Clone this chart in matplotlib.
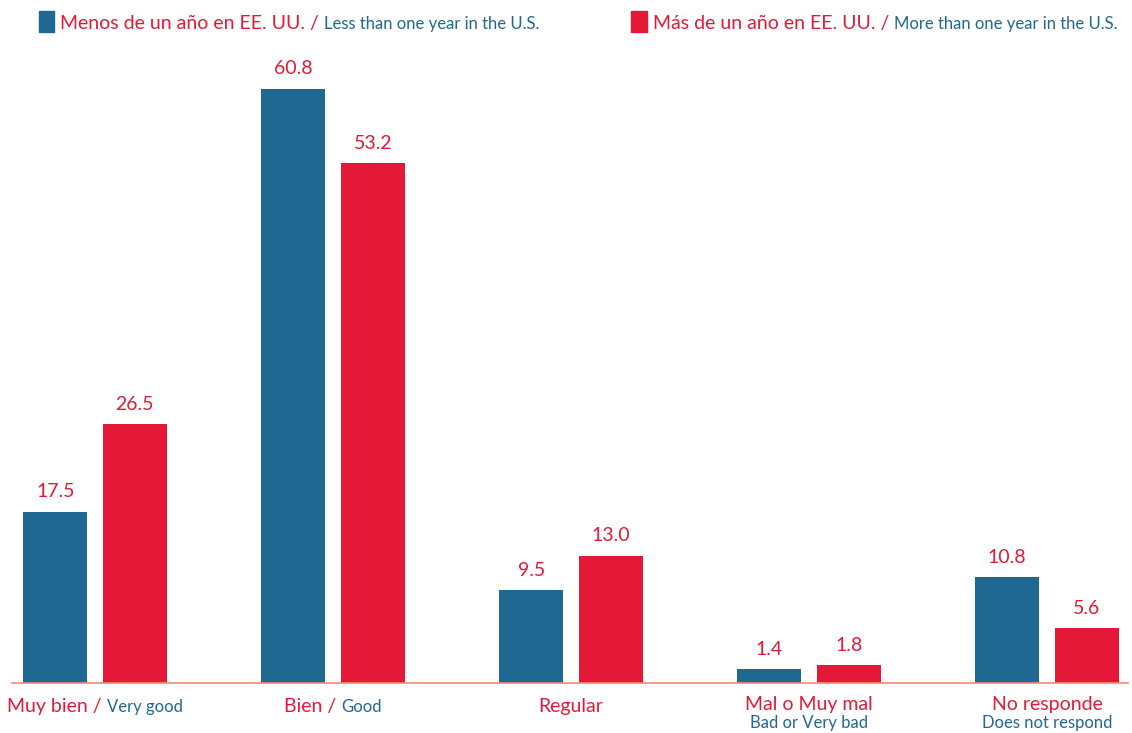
import matplotlib
matplotlib.use("Agg")
import matplotlib.pyplot as plt
import numpy as np

# datos
categorias_es = ["Muy bien", "Bien", "Regular", "Mal o Muy mal", "No responde"]
categorias_en = ["Very good", "Good", "", "Bad or Very bad", "Does not respond"]
menos_un_anio = [17.5, 60.8, 9.5, 1.4, 10.8]
mas_un_anio = [26.5, 53.2, 13.0, 1.8, 5.6]

AZUL = "#1f6892"
ROJO = "#e31937"
LINEA = "#f4897a"
FUENTE = "Lato"

plt.rcParams["font.family"] = [FUENTE, "DejaVu Sans"]

W, H = 1132, 733
fig = plt.figure(figsize=(W / 100, H / 100), dpi=100)
ax = fig.add_axes([12 / W, 1 - 683 / H, (1128 - 12) / W, (683 - 48) / H])

x = np.arange(len(categorias_es))
ancho = 64 / 238
desp = 39.75 / 238
b1 = ax.bar(x - desp, menos_un_anio, ancho, color=AZUL)
b2 = ax.bar(x + desp, mas_un_anio, ancho, color=ROJO)

for barras in (b1, b2):
    for b in barras:
        ax.annotate(f"{b.get_height():.1f}", (b.get_x() + b.get_width() / 2, b.get_height()),
                    xytext=(0, 10.5), textcoords="offset points", ha="center", va="baseline",
                    color=ROJO, fontsize=14)

ax.set_xlim((12 - 95) / 238, (1128 - 95) / 238)
ax.set_ylim(0, 65)
for s in ["top", "right", "left"]:
    ax.spines[s].set_visible(False)
ax.spines["bottom"].set_color(LINEA)
ax.spines["bottom"].set_linewidth(1.2)
ax.set_xticks([])
ax.set_yticks([])

renderer = fig.canvas.get_renderer()


def texto_mixto(x_px, y_px, partes, centrado=False):
    # partes: (texto, color, tamano) en una misma linea base
    objs = [fig.text(0, 1 - y_px / H, t, color=c, fontsize=s, va="baseline") for t, c, s in partes]
    anchos = [o.get_window_extent(renderer).width for o in objs]
    inicio = x_px - sum(anchos) / 2 if centrado else x_px
    for o, a in zip(objs, anchos):
        o.set_x(inicio / W)
        inicio += a
    return objs


# leyenda
fig.patches.append(plt.Rectangle((39 / W, 1 - 32 / H), 15 / W, 21 / H, transform=fig.transFigure,
                                 color=AZUL, figure=fig))
texto_mixto(60, 29, [("Menos de un año en EE. UU. / ", ROJO, 14), ("Less than one year in the U.S.", AZUL, 12)])
fig.patches.append(plt.Rectangle((631 / W, 1 - 32 / H), 16 / W, 21 / H, transform=fig.transFigure,
                                 color=ROJO, figure=fig))
texto_mixto(653, 29, [("Más de un año en EE. UU. / ", ROJO, 14), ("More than one year in the U.S.", AZUL, 12)])

# etiquetas del eje x
for i, (es, en) in enumerate(zip(categorias_es, categorias_en)):
    cx = ax.transData.transform((i, 0))[0]
    if i < 3:
        partes = [(es, ROJO, 14)] if en == "" else [(es + " / ", ROJO, 14), (en, AZUL, 12)]
        texto_mixto(cx, 712, partes, centrado=True)
    else:
        texto_mixto(cx, 710, [(es, ROJO, 14)], centrado=True)
        texto_mixto(cx, 728, [(en, AZUL, 12)], centrado=True)

fig.savefig("out.png", dpi=100)
